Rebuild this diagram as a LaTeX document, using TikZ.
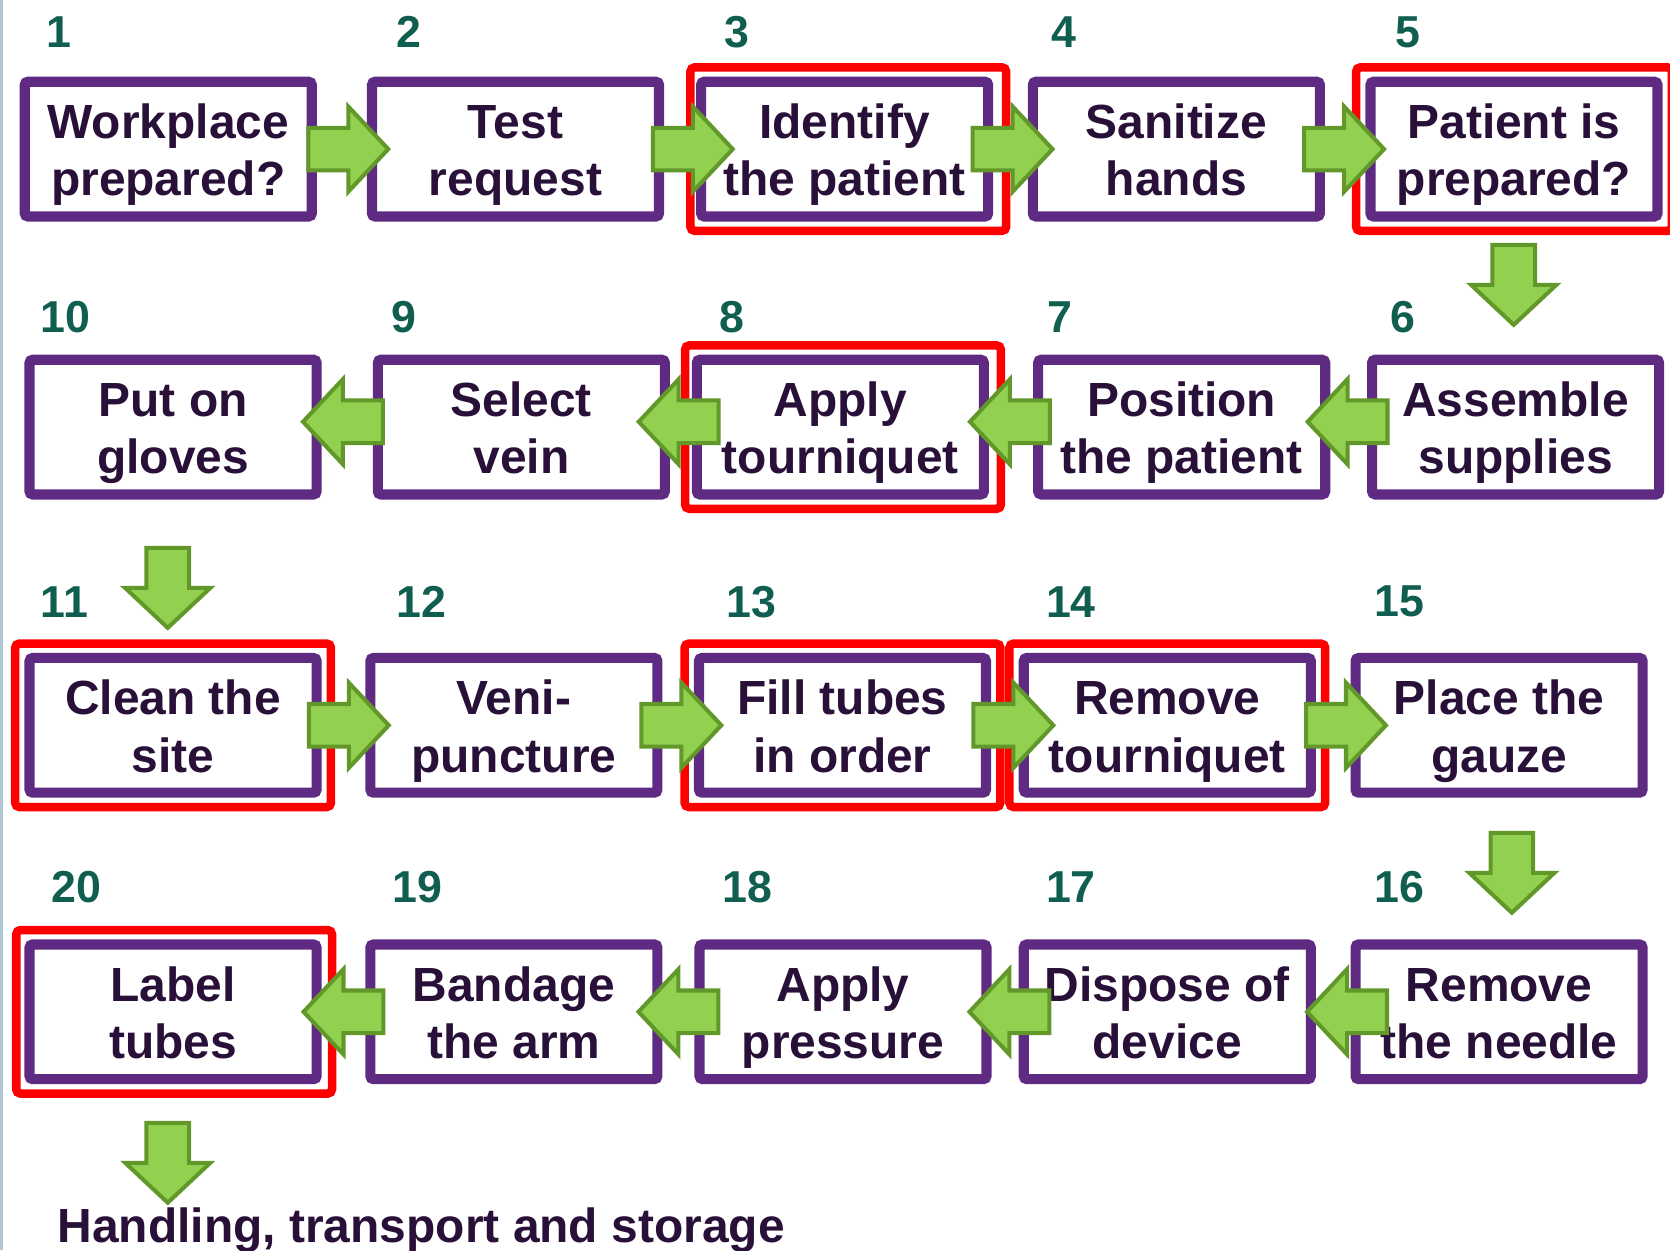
\documentclass[tikz,border=0pt]{standalone}
\usepackage{fontspec}
\setmainfont{Liberation Sans}
\usetikzlibrary{calc,fit}
\definecolor{boxpurple}{RGB}{94,42,130}
\definecolor{txtdark}{RGB}{40,16,56}
\definecolor{numteal}{RGB}{16,94,80}
\definecolor{arrowgreen}{RGB}{146,208,80}
\definecolor{arrowdark}{RGB}{98,152,42}
\definecolor{edgeblue}{RGB}{176,200,214}
\begin{document}
\begin{tikzpicture}[x=1pt,y=-1pt,
  box/.style={draw=boxpurple, line width=9.5pt, fill=white, rounded corners=3pt,
    minimum width=269.5pt, minimum height=126.5pt, inner sep=0pt, outer sep=0pt,
    align=center, font=\fontsize{45}{54}\selectfont\bfseries, text=txtdark,
    text height=100pt, text depth=12pt},
  num/.style={anchor=west, inner sep=0pt, font=\fontsize{42}{42}\selectfont\bfseries, text=numteal},
  hl/.style={draw=red, line width=8pt, rounded corners=4pt, inner sep=13.5pt},
  blk/.style={fill=arrowgreen, draw=arrowdark, line width=3.8pt, line join=miter},
  barrow/.pic={\draw[blk] (-37.5,-20) -- (0,-20) -- (0,-40) -- (37.5,0) -- (0,40) -- (0,20) -- (-37.5,20) -- cycle;}
]
\useasboundingbox (0,0) rectangle (1568,1174);
\clip (0,0) rectangle (1568,1174);
\draw[edgeblue, line width=3pt] (1,0) -- (1,1174);

% Row 1
\node[box] (b1) at (158,140) {Workplace\\prepared?};
\node[box] (b2) at (484,140) {Test\\request};
\node[box] (b3) at (793,140) {Identify\\the patient};
\node[box] (b4) at (1104.5,140) {Sanitize\\hands};
\node[box] (b5) at (1421.5,140) {Patient is\\prepared?};
% Row 2
\node[box] (b10) at (162.5,401) {Put on\\gloves};
\node[box] (b9) at (489.5,401) {Select\\vein};
\node[box] (b8) at (789,401) {Apply\\tourniquet};
\node[box] (b7) at (1109.5,401) {Position\\the patient};
\node[box] (b6) at (1423,401) {Assemble\\supplies};
% Row 3
\node[box] (b11) at (162.5,681) {Clean the\\site};
\node[box] (b12) at (482.5,681) {Veni-\\puncture};
\node[box] (b13) at (791,681) {Fill tubes\\in order};
\node[box] (b14) at (1096,681) {Remove\\tourniquet};
\node[box] (b15) at (1407.5,681) {Place the\\gauze};
% Row 4
\node[box] (b20) at (162.5,950) {Label\\tubes};
\node[box] (b19) at (482.5,950) {Bandage\\the arm};
\node[box] (b18) at (791.5,950) {Apply\\pressure};
\node[box] (b17) at (1096,950) {Dispose of\\device};
\node[box] (b16) at (1407.5,950) {Remove\\the needle};

% Numbers
\node[num] (n1) at (43,30) {1};
\node[num] (n2) at (372,30) {2};
\node[num] (n3) at (680,30) {3};
\node[num] (n4) at (987,30) {4};
\node[num] (n5) at (1310,30) {5};
\node[num] (n10) at (38,298) {10};
\node[num] (n9) at (367,298) {9};
\node[num] (n8) at (675,298) {8};
\node[num] (n7) at (983,298) {7};
\node[num] (n6) at (1305,298) {6};
\node[num] (n11) at (38,565) {11};
\node[num] (n12) at (372,565) {12};
\node[num] (n13) at (682,565) {13};
\node[num] (n14) at (982,565) {14};
\node[num] (n15) at (1290,565) {15};
\node[num] (n20) at (48,833) {20};
\node[num] (n19) at (368,833) {19};
\node[num] (n18) at (678,833) {18};
\node[num] (n17) at (982,833) {17};
\node[num] (n16) at (1290,833) {16};

% Red highlight frames
\node[hl, fit=(b3), xshift=3.5pt] (h3) {};
\node[hl, fit=(b5)] (h5) {};
\node[hl, fit=(b8), xshift=2.5pt] (h8) {};
\node[hl, fit=(b11)] (h11) {};
\node[hl, fit=(b13)] (h13) {};
\node[hl, fit=(b14)] (h14) {};
\node[hl, fit=(b20), xshift=1pt] (h20) {};

% Block arrows row 1
\path ($(b1.east)!0.5!(b2.west)+(6,0)$) pic {barrow};
\path ($(b2.east)!0.5!(b3.west)+(12,0)$) pic {barrow};
\path ($(b3.east)!0.5!(b4.west)+(2,0)$) pic {barrow};
\path ($(b4.east)!0.5!(b5.west)+(-1,0)$) pic {barrow};
% down 5 -> 6
\path ($(b5.south)!0.5!(b6.north)+(-1,-3)$) pic[rotate=-90] {barrow};
% row 2 (leftwards)
\path ($(b6.west)!0.5!(b7.east)+(-1,-5)$) pic[rotate=180] {barrow};
\path ($(b7.west)!0.5!(b8.east)+(-1,-5)$) pic[rotate=180] {barrow};
\path ($(b8.west)!0.5!(b9.east)+(-2,-5)$) pic[rotate=180] {barrow};
\path ($(b9.west)!0.5!(b10.east)+(-4,-5)$) pic[rotate=180] {barrow};
% down 10 -> 11
\path ($(b10.south)!0.5!(b11.north)+(-5,11)$) pic[rotate=-90] {barrow};
% row 3
\path ($(b11.east)!0.5!(b12.west)+(5,0)$) pic {barrow};
\path ($(b12.east)!0.5!(b13.west)+(3,0)$) pic {barrow};
\path ($(b13.east)!0.5!(b14.west)+(8,0)$) pic {barrow};
\path ($(b14.east)!0.5!(b15.west)+(12,0)$) pic {barrow};
% down 15 -> 16
\path ($(b15.south)!0.5!(b16.north)+(12,4)$) pic[rotate=-90] {barrow};
% row 4 (leftwards)
\path ($(b16.west)!0.5!(b17.east)+(13,0)$) pic[rotate=180] {barrow};
\path ($(b17.west)!0.5!(b18.east)+(4,0)$) pic[rotate=180] {barrow};
\path ($(b18.west)!0.5!(b19.east)+(0,0)$) pic[rotate=180] {barrow};
\path ($(b19.west)!0.5!(b20.east)+(0,0)$) pic[rotate=180] {barrow};
% down 20 -> handling
\node[anchor=base west, inner sep=0pt, font=\fontsize{45}{54}\selectfont\bfseries, text=txtdark] (end) at (54,1167) {Handling, transport and storage};
\coordinate (d4) at ($(b20.south)+(-5,78.5)$);
\path (d4) pic[rotate=-90] {barrow};
\end{tikzpicture}
\end{document}
